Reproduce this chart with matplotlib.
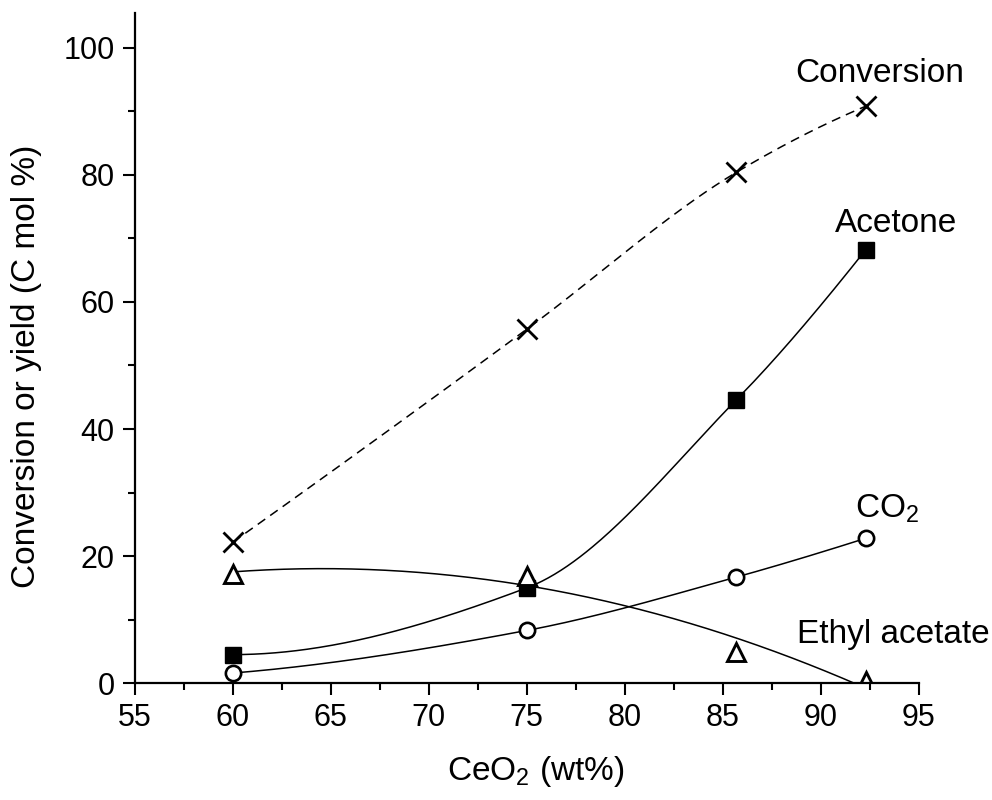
import numpy as np
import matplotlib
matplotlib.use("Agg")
import matplotlib.pyplot as plt
from matplotlib.ticker import MultipleLocator

plt.rcParams['font.family'] = ['Liberation Sans', 'DejaVu Sans']
plt.rcParams['mathtext.fontset'] = 'custom'
plt.rcParams['mathtext.rm'] = 'Liberation Sans'
plt.rcParams['mathtext.it'] = 'Liberation Sans:italic'

# CeO2 loading (wt%) and measured values (C mol %)
ceo2 = [60, 75, 85.7, 92.3]
conversion = [22.2, 55.7, 80.4, 90.8]
acetone = [4.5, 15.0, 44.6, 68.2]
co2 = [1.6, 8.3, 16.7, 22.8]
ethyl_acetate = [17.2, 16.8, 4.9, 0.3]


def _end_slope(h0, h1, d0, d1):
    s = ((2 * h0 + h1) * d0 - h0 * d1) / (h0 + h1)
    if np.sign(s) != np.sign(d0):
        s = 0.0
    elif np.sign(d0) != np.sign(d1) and abs(s) > abs(3 * d0):
        s = 3 * d0
    return s


def pchip(x, y, num=300):
    # monotone cubic (Fritsch-Carlson) through the measured points
    x = np.asarray(x, float)
    y = np.asarray(y, float)
    h = np.diff(x)
    d = np.diff(y) / h
    n = len(x)
    m = np.zeros(n)
    for k in range(1, n - 1):
        if d[k - 1] * d[k] > 0:
            w1 = 2 * h[k] + h[k - 1]
            w2 = h[k] + 2 * h[k - 1]
            m[k] = (w1 + w2) / (w1 / d[k - 1] + w2 / d[k])
    m[0] = _end_slope(h[0], h[1], d[0], d[1])
    m[-1] = _end_slope(h[-1], h[-2], d[-1], d[-2])
    xs = np.linspace(x[0], x[-1], num)
    i = np.clip(np.searchsorted(x, xs) - 1, 0, n - 2)
    t = (xs - x[i]) / h[i]
    h00 = 2 * t**3 - 3 * t**2 + 1
    h10 = t**3 - 2 * t**2 + t
    h01 = -2 * t**3 + 3 * t**2
    h11 = t**3 - t**2
    ys = h00 * y[i] + h10 * h[i] * m[i] + h01 * y[i + 1] + h11 * h[i] * m[i + 1]
    return xs, ys


def quad_fit(x, y, num=300):
    coef = np.polyfit(x, y, 2)
    xs = np.linspace(min(x), max(x), num)
    return xs, np.polyval(coef, xs)


fig = plt.figure(figsize=(9.92, 8.0), dpi=100)
ax = fig.add_axes([0.136, 0.146, 0.790, 0.838])

lw = 1.1
# curves
xs, ys = pchip(ceo2, conversion)
ax.plot(xs, ys, color='black', lw=lw, ls=(0, (6, 4)), zorder=2)
xs, ys = pchip(ceo2, acetone)
ax.plot(xs, ys, color='black', lw=lw, zorder=2)
xs, ys = pchip(ceo2, co2)
ax.plot(xs, ys, color='black', lw=lw, zorder=2)
xs, ys = quad_fit(ceo2, ethyl_acetate)
ax.plot(xs, ys, color='black', lw=lw, zorder=2)

# markers
ax.plot(ceo2, conversion, ls='none', marker='x', ms=14, mew=2.0, color='black', zorder=3)
ax.plot(ceo2, acetone, ls='none', marker='s', ms=11, mew=1, color='black', zorder=3)
ax.plot(ceo2, co2, ls='none', marker='o', ms=11, mew=1.9, mfc='white', mec='black', zorder=3)
ax.plot(ceo2, ethyl_acetate, ls='none', marker='^', ms=13.5, mew=2.1, mfc='white', mec='black',
        zorder=3)

fs_lab = 24
ax.text(88.7, 94.6, 'Conversion', fontsize=fs_lab, ha='left', va='baseline')
ax.text(90.75, 71.0, 'Acetone', fontsize=fs_lab, ha='left', va='baseline')
ax.text(91.77, 26.0, 'CO$_2$', fontsize=fs_lab, ha='left', va='baseline')
ax.text(88.8, 6.3, 'Ethyl acetate', fontsize=fs_lab, ha='left', va='baseline')

ax.set_xlim(55, 95)
ax.set_ylim(0, 105.5)
ax.xaxis.set_major_locator(MultipleLocator(5))
ax.xaxis.set_minor_locator(MultipleLocator(2.5))
ax.yaxis.set_minor_locator(MultipleLocator(10))
ax.set_yticks([0, 20, 40, 60, 80, 100])

for side in ('top', 'right'):
    ax.spines[side].set_visible(False)
for side in ('left', 'bottom'):
    ax.spines[side].set_linewidth(1.6)
    ax.spines[side].set_zorder(4)

ax.tick_params(which='major', direction='out', length=8.5, width=1.5, labelsize=22, pad=6)
ax.tick_params(which='minor', direction='out', length=5, width=1.5)

ax.set_xlabel('CeO$_2$ (wt%)', fontsize=fs_lab)
ax.set_ylabel('Conversion or yield (C mol %)', fontsize=fs_lab)
ax.xaxis.set_label_coords(0.511, -0.105)
ax.yaxis.set_label_coords(-0.118, 0.472)

fig.savefig('out.png', dpi=100, facecolor='white')
